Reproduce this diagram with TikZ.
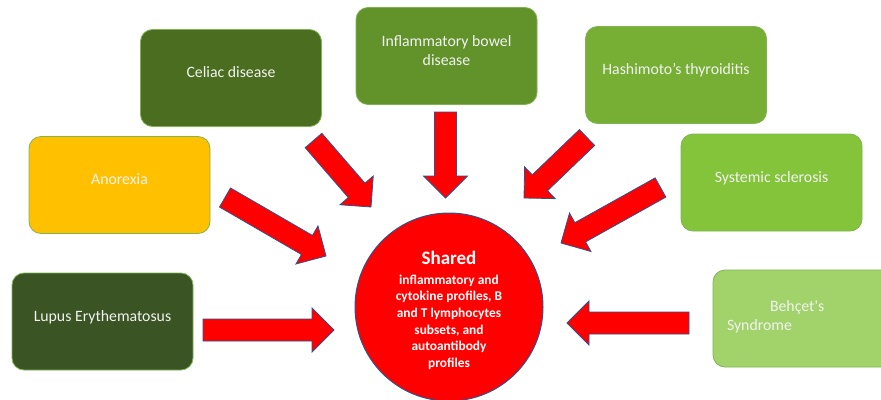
\documentclass[tikz,border=0pt]{standalone}
\usepackage{fontspec}
\setmainfont{Carlito}
\usetikzlibrary{calc}

\definecolor{lupusgreen}{HTML}{3A5424}
\definecolor{celiacgreen}{HTML}{4B6D1F}
\definecolor{ibdgreen}{HTML}{62922A}
\definecolor{hashigreen}{HTML}{76AF33}
\definecolor{sclerogreen}{HTML}{84C43A}
\definecolor{behcetgreen}{HTML}{A1D36A}
\definecolor{anorexiagold}{HTML}{FFC000}
\definecolor{boxedge}{HTML}{7FB450}
\definecolor{hubred}{HTML}{FF0000}
\definecolor{hubedge}{HTML}{2F528F}

\tikzset{
  disease/.style={draw=boxedge, line width=0.8pt, rounded corners=12pt,
    minimum width=181pt, minimum height=97pt, text=white!95!black,
    font=\fontsize{15.8}{19.5}\selectfont},
  oneline/.style={text height=11pt, text depth=12pt},
  hub/.style={circle, draw=hubedge, fill=hubred, line width=1pt,
    minimum size=188pt, inner sep=0pt, text=white, align=center,
    font=\bfseries\fontsize{13.4}{16.6}\selectfont},
  fatarrow/.style={draw=hubedge, fill=hubred, line width=0.8pt,
    to path={let \p1=($(\tikztotarget)-(\tikztostart)$), \n1={atan2(\y1,\x1)} in
      ($(\tikztostart)+({\n1+90}:11pt)$)
      -- ($(\tikztotarget)+({\n1+90}:11pt)+({\n1+180}:22pt)$)
      -- ($(\tikztotarget)+({\n1+90}:22pt)+({\n1+180}:22pt)$)
      -- (\tikztotarget)
      -- ($(\tikztotarget)+({\n1-90}:22pt)+({\n1+180}:22pt)$)
      -- ($(\tikztotarget)+({\n1-90}:11pt)+({\n1+180}:22pt)$)
      -- ($(\tikztostart)+({\n1-90}:11pt)$)
      -- cycle}}
}

\begin{document}
\begin{tikzpicture}[x=1pt, y=-1pt]
  \useasboundingbox (0,0) rectangle (881,399);

  \node[disease, oneline, fill=lupusgreen] (lupus) at (102.5,321.5) {Lupus Erythematosus};
  \node[disease, oneline, fill=anorexiagold] (anorexia) at (119.5,185) {Anorexia};
  \node[disease, oneline, fill=celiacgreen] (celiac) at (231,78) {Celiac disease};
  \node[disease, fill=ibdgreen, align=center] (ibd) at (446.5,56) {Inflammatory bowel\\disease\rule[-11pt]{0pt}{0pt}};
  \node[disease, oneline, fill=hashigreen] (hashimoto) at (676,75) {Hashimoto’s thyroiditis};
  \node[disease, oneline, fill=sclerogreen] (sclerosis) at (771.5,182.5) {Systemic sclerosis};
  \node[disease, fill=behcetgreen, align=left, text width=153pt, inner xsep=14pt] (behcet) at (803.5,318.5) {\hspace*{43pt}Behçet\textquotesingle s\\Syndrome\rule[-6pt]{0pt}{0pt}};

  \node[hub] (shared) at (449,307) {\rule{0pt}{20pt}{\fontsize{19}{22}\selectfont Shared}\\[3pt]
    inflammatory and\\cytokine profiles, B\\and T lymphocytes\\subsets, and\\autoantibody\\profiles};

  \coordinate (lupus-tail) at (203,330);
  \coordinate (lupus-tip) at (334,330);
  \coordinate (anorexia-tail) at (225,197.5);
  \coordinate (anorexia-tip) at (326,256);
  \coordinate (celiac-tail) at (313.5,140.5);
  \coordinate (celiac-tip) at (371,207);
  \coordinate (ibd-tail) at (445.5,112);
  \coordinate (ibd-tip) at (445.5,198);
  \coordinate (hashimoto-tail) at (587,137.5);
  \coordinate (hashimoto-tip) at (524,198);
  \coordinate (sclerosis-tail) at (660.5,187.5);
  \coordinate (sclerosis-tip) at (561,243);
  \coordinate (behcet-tail) at (689,323);
  \coordinate (behcet-tip) at (567,323);

  \draw[fatarrow] (lupus-tail) to (lupus-tip);
  \draw[fatarrow] (anorexia-tail) to (anorexia-tip);
  \draw[fatarrow] (celiac-tail) to (celiac-tip);
  \draw[fatarrow] (ibd-tail) to (ibd-tip);
  \draw[fatarrow] (hashimoto-tail) to (hashimoto-tip);
  \draw[fatarrow] (sclerosis-tail) to (sclerosis-tip);
  \draw[fatarrow] (behcet-tail) to (behcet-tip);
\end{tikzpicture}
\end{document}
